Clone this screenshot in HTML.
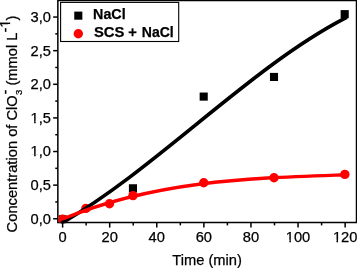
<!DOCTYPE html>
<html><head><meta charset="utf-8"><title>chart</title>
<style>
html,body{margin:0;padding:0;background:#fff;}
svg{display:block;}
text{font-family:"Liberation Sans",Arial,sans-serif;fill:#000;stroke:#000;stroke-width:0.25px;}
</style></head><body>
<svg width="357" height="268" viewBox="0 0 357 268">
<rect x="0" y="0" width="357" height="268" fill="#fff"/>

<path d="M57.85 0.50 V222.40 H356.50 V0.50 Z" fill="none" stroke="#000" stroke-width="1.5"/>
<clipPath id="c"><rect x="58.60" y="0.50" width="298.65" height="222.65"/></clipPath>
<rect x="58.55" y="215.25" width="8.1" height="8.1" fill="#000" clip-path="url(#c)"/>
<rect x="128.90" y="184.25" width="8.1" height="8.1" fill="#000" clip-path="url(#c)"/>
<rect x="199.65" y="92.55" width="8.1" height="8.1" fill="#000" clip-path="url(#c)"/>
<rect x="269.95" y="72.90" width="8.1" height="8.1" fill="#000" clip-path="url(#c)"/>
<rect x="340.65" y="10.10" width="8.1" height="8.1" fill="#000" clip-path="url(#c)"/>
<circle cx="62.60" cy="219.30" r="4.7" fill="#f00" clip-path="url(#c)"/>
<circle cx="85.90" cy="208.40" r="4.7" fill="#f00" clip-path="url(#c)"/>
<circle cx="109.50" cy="203.80" r="4.7" fill="#f00" clip-path="url(#c)"/>
<circle cx="133.00" cy="195.60" r="4.7" fill="#f00" clip-path="url(#c)"/>
<circle cx="203.75" cy="182.80" r="4.7" fill="#f00" clip-path="url(#c)"/>
<circle cx="274.00" cy="177.80" r="4.7" fill="#f00" clip-path="url(#c)"/>
<circle cx="344.85" cy="174.40" r="4.7" fill="#f00" clip-path="url(#c)"/>
<path d="M62.60 222.29 C156.78 167.79 250.96 66.67 345.14 17.91" fill="none" stroke="#000" stroke-width="3.7" stroke-linecap="square" clip-path="url(#c)" transform="translate(0 0.3)"/>
<path d="M62.60 218.65 C156.78 179.93 250.96 177.83 345.14 174.45" fill="none" stroke="#f00" stroke-width="3.4" transform="translate(0 0.3)"/>
<path d="M57.85 218.75 H53.15" stroke="#000" stroke-width="1.5"/>
<text x="51.0" y="223.60" font-size="14.7" text-anchor="end">0,0</text>
<path d="M57.85 201.94 H55.25" stroke="#000" stroke-width="1.5"/>
<path d="M57.85 185.13 H53.15" stroke="#000" stroke-width="1.5"/>
<text x="51.0" y="189.98" font-size="14.7" text-anchor="end">0,5</text>
<path d="M57.85 168.33 H55.25" stroke="#000" stroke-width="1.5"/>
<path d="M57.85 151.52 H53.15" stroke="#000" stroke-width="1.5"/>
<text x="51.0" y="156.37" font-size="14.7" text-anchor="end">1,0</text>
<rect x="30.49" y="154.47" width="3.65" height="3.60" fill="#fff"/><rect x="35.69" y="154.47" width="3.23" height="3.60" fill="#fff"/>
<path d="M57.85 134.71 H55.25" stroke="#000" stroke-width="1.5"/>
<path d="M57.85 117.91 H53.15" stroke="#000" stroke-width="1.5"/>
<text x="51.0" y="122.75" font-size="14.7" text-anchor="end">1,5</text>
<rect x="30.49" y="120.86" width="3.65" height="3.60" fill="#fff"/><rect x="35.69" y="120.86" width="3.23" height="3.60" fill="#fff"/>
<path d="M57.85 101.10 H55.25" stroke="#000" stroke-width="1.5"/>
<path d="M57.85 84.29 H53.15" stroke="#000" stroke-width="1.5"/>
<text x="51.0" y="89.14" font-size="14.7" text-anchor="end">2,0</text>
<path d="M57.85 67.48 H55.25" stroke="#000" stroke-width="1.5"/>
<path d="M57.85 50.67 H53.15" stroke="#000" stroke-width="1.5"/>
<text x="51.0" y="55.52" font-size="14.7" text-anchor="end">2,5</text>
<path d="M57.85 33.87 H55.25" stroke="#000" stroke-width="1.5"/>
<path d="M57.85 17.06 H53.15" stroke="#000" stroke-width="1.5"/>
<text x="51.0" y="21.91" font-size="14.7" text-anchor="end">3,0</text>
<path d="M62.60 222.40 V227.60" stroke="#000" stroke-width="1.5"/>
<text x="62.60" y="241.6" font-size="14.7" text-anchor="middle">0</text>
<path d="M86.14 222.40 V225.40" stroke="#000" stroke-width="1.5"/>
<path d="M109.69 222.40 V227.60" stroke="#000" stroke-width="1.5"/>
<text x="109.69" y="241.6" font-size="14.7" text-anchor="middle">20</text>
<path d="M133.23 222.40 V225.40" stroke="#000" stroke-width="1.5"/>
<path d="M156.78 222.40 V227.60" stroke="#000" stroke-width="1.5"/>
<text x="156.78" y="241.6" font-size="14.7" text-anchor="middle">40</text>
<path d="M180.32 222.40 V225.40" stroke="#000" stroke-width="1.5"/>
<path d="M203.87 222.40 V227.60" stroke="#000" stroke-width="1.5"/>
<text x="203.87" y="241.6" font-size="14.7" text-anchor="middle">60</text>
<path d="M227.41 222.40 V225.40" stroke="#000" stroke-width="1.5"/>
<path d="M250.96 222.40 V227.60" stroke="#000" stroke-width="1.5"/>
<text x="250.96" y="241.6" font-size="14.7" text-anchor="middle">80</text>
<path d="M274.50 222.40 V225.40" stroke="#000" stroke-width="1.5"/>
<path d="M298.05 222.40 V227.60" stroke="#000" stroke-width="1.5"/>
<text x="298.05" y="241.6" font-size="14.7" text-anchor="middle">100</text>
<rect x="285.71" y="239.70" width="3.65" height="3.60" fill="#fff"/><rect x="290.91" y="239.70" width="3.23" height="3.60" fill="#fff"/>
<path d="M321.60 222.40 V225.40" stroke="#000" stroke-width="1.5"/>
<path d="M345.14 222.40 V227.60" stroke="#000" stroke-width="1.5"/>
<text x="345.14" y="241.6" font-size="14.7" text-anchor="middle">120</text>
<rect x="332.80" y="239.70" width="3.65" height="3.60" fill="#fff"/><rect x="338.00" y="239.70" width="3.23" height="3.60" fill="#fff"/>
<rect x="60.6" y="2.4" width="118.1" height="39.1" fill="#fff" stroke="#000" stroke-width="1.1"/>
<rect x="74.25" y="11.6" width="8.1" height="8.1" fill="#000"/>
<circle cx="78.3" cy="33.8" r="4.7" fill="#f00"/>
<text x="93.1" y="18.9" font-size="14.3" font-weight="bold">NaCl</text>
<text y="37.3" font-size="14" font-weight="bold"><tspan x="93.9" font-size="14.8">SCS</tspan><tspan x="124.2" font-size="14.7"> + </tspan><tspan x="141.8">NaCl</tspan></text>
<text x="207.1" y="264.6" font-size="14.7" text-anchor="middle">Time (min)</text>
<text transform="translate(17.2 232.4) rotate(-90)" font-size="14.7">Concentration of ClO</text>
<text transform="translate(22.0 95.0) rotate(-90)" font-size="9.5">3</text>
<text transform="translate(9.6 94.6) rotate(-90)" font-size="14.7">-</text>
<text transform="translate(17.2 85.6) rotate(-90)" font-size="14.7">(mmol L<tspan dy="-7.4">-1</tspan><tspan dy="7.4" dx="-0.9">)</tspan></text>
<g transform="translate(17.2 85.6) rotate(-90)"><rect x="57.90" y="-9.30" width="3.65" height="3.60" fill="#fff"/><rect x="63.11" y="-9.30" width="3.23" height="3.60" fill="#fff"/></g>
</svg></body></html>
